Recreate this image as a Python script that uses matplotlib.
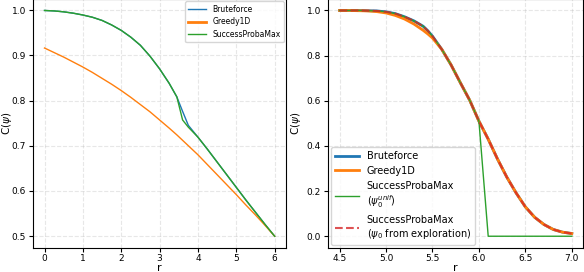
import matplotlib
matplotlib.use("Agg")
import matplotlib.pyplot as plt

# ---- left panel data ----
r_left = [0, 0.25, 0.5, 0.75, 1, 1.25, 1.5, 1.75, 2, 2.25, 2.5, 2.75, 3, 3.25, 3.45,
          3.6, 3.75, 4, 4.25, 4.5, 4.75, 5, 5.25, 5.5, 5.75, 6]
brute_left = [0.999, 0.998, 0.996, 0.993, 0.989, 0.984, 0.977, 0.967, 0.955, 0.940, 0.922, 0.898, 0.870, 0.838, 0.808,
              0.776, 0.745, 0.719, 0.692, 0.664, 0.636, 0.608, 0.580, 0.553, 0.526, 0.500]
spm_left = [0.999, 0.998, 0.996, 0.993, 0.989, 0.984, 0.977, 0.967, 0.955, 0.940, 0.922, 0.898, 0.870, 0.838, 0.808,
            0.757, 0.741, 0.719, 0.692, 0.664, 0.636, 0.608, 0.580, 0.553, 0.526, 0.500]
greedy_left = [0.916, 0.906, 0.896, 0.885, 0.874, 0.862, 0.849, 0.836, 0.822, 0.807, 0.791, 0.775, 0.757, 0.739, 0.724,
               0.712, 0.700, 0.680, 0.658, 0.636, 0.614, 0.592, 0.569, 0.547, 0.524, 0.500]

# ---- right panel data ----
r_right = [4.5, 4.6, 4.7, 4.8, 4.9, 5.0, 5.1, 5.2, 5.3, 5.4, 5.45, 5.5, 5.6, 5.7, 5.8, 5.9,
           6.0, 6.1, 6.2, 6.3, 6.4, 6.5, 6.6, 6.7, 6.8, 6.9, 7.0]
brute_right = [1.0, 1.0, 1.0, 0.999, 0.998, 0.994, 0.986, 0.972, 0.954, 0.930, 0.910, 0.886, 0.828, 0.759, 0.680, 0.603,
               0.510, 0.430, 0.342, 0.262, 0.192, 0.130, 0.084, 0.052, 0.030, 0.018, 0.012]
greedy_right = [1.0, 1.0, 0.999, 0.998, 0.995, 0.989, 0.978, 0.962, 0.940, 0.912, 0.896, 0.878, 0.828, 0.759, 0.680, 0.603,
                0.510, 0.430, 0.342, 0.262, 0.192, 0.130, 0.084, 0.052, 0.030, 0.018, 0.012]
spm_unif_right = [1.0, 1.0, 1.0, 0.999, 0.998, 0.994, 0.986, 0.972, 0.954, 0.930, 0.910, 0.886, 0.828, 0.759, 0.680, 0.603,
                  0.510, 0.0, 0.0, 0.0, 0.0, 0.0, 0.0, 0.0, 0.0, 0.0, 0.0]
spm_expl_right = brute_right

fig = plt.figure(figsize=(5.84, 2.72), dpi=100)
ax1 = fig.add_axes([0.0565, 0.09, 0.4335, 0.913])
ax2 = fig.add_axes([0.5616, 0.09, 0.4374, 0.913])

# left
ax1.plot(r_left, brute_left, color="C0", lw=1, label="Bruteforce")
ax1.plot(r_left, greedy_left, color="C1", lw=1, label="Greedy1D")
ax1.plot(r_left, spm_left, color="C2", lw=1, label="SuccessProbaMax")
leg1 = ax1.legend(loc="upper right", fontsize=5.5, handlelength=2.4, borderaxespad=0.3)
leg1.get_lines()[1].set_linewidth(2)
ax1.set_xticks([0, 1, 2, 3, 4, 5, 6])
ax1.set_yticks([0.5, 0.6, 0.7, 0.8, 0.9, 1.0])
ax1.set_xlabel("r", fontsize=8, labelpad=0)
ax1.set_ylabel(r"C($\psi$)", fontsize=7.5)
ax1.yaxis.set_label_coords(-0.077, 0.5)

# right
ax2.plot(r_right, brute_right, color="C0", lw=2, label="Bruteforce")
ax2.plot(r_right, greedy_right, color="C1", lw=2, label="Greedy1D")
ax2.plot(r_right, spm_unif_right, color="C2", lw=1, label="SuccessProbaMax\n" + r"($\psi_0^{unif}$)")
ax2.plot(r_right, spm_expl_right, color="C3", lw=1.5, ls="--", alpha=0.8,
         label="SuccessProbaMax\n" + r"($\psi_0$ from exploration)")
ax2.legend(loc="lower left", fontsize=7, handlelength=2.5, borderaxespad=0.3)
ax2.set_xticks([4.5, 5.0, 5.5, 6.0, 6.5, 7.0])
ax2.set_yticks([0.0, 0.2, 0.4, 0.6, 0.8, 1.0])
ax2.set_xlabel("r", fontsize=8, labelpad=0)
ax2.set_ylabel(r"C($\psi$)", fontsize=7.5)
ax2.yaxis.set_label_coords(-0.098, 0.5)

for ax in (ax1, ax2):
    ax.tick_params(labelsize=6.5, length=3, pad=2)
    ax.grid(True, linestyle="--", alpha=0.3)

fig.savefig("out.png", dpi=100)
